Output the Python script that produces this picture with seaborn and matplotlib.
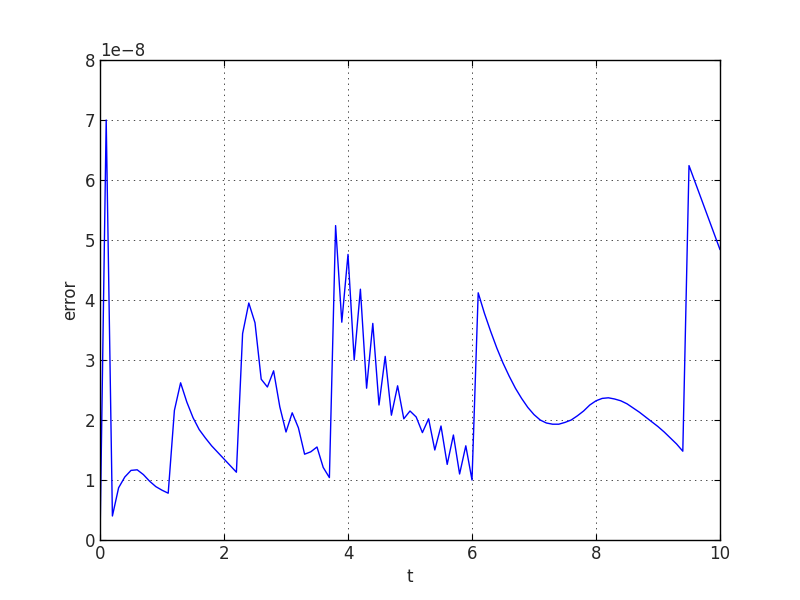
import numpy as np
import pandas as pd
import seaborn as sns
import matplotlib.pyplot as plt

# time samples (step 0.1) and error values, in units of 1e-8
t = [round(0.1 * i, 1) for i in range(101)]
err_e8 = [
    0.00, 7.00, 0.40, 0.87, 1.05, 1.16, 1.17, 1.09, 0.98, 0.89,   # 0.0 - 0.9
    0.83, 0.78, 2.16, 2.62, 2.30, 2.04, 1.84, 1.70, 1.57, 1.46,   # 1.0 - 1.9
    1.35, 1.24, 1.13, 3.44, 3.95, 3.62, 2.68, 2.55, 2.82, 2.22,   # 2.0 - 2.9
    1.80, 2.12, 1.87, 1.43, 1.47, 1.55, 1.21, 1.04, 5.24, 3.63,   # 3.0 - 3.9
    4.76, 3.00, 4.18, 2.53, 3.61, 2.25, 3.06, 2.08, 2.57, 2.02,   # 4.0 - 4.9
    2.15, 2.05, 1.79, 2.02, 1.50, 1.90, 1.26, 1.75, 1.10, 1.57,   # 5.0 - 5.9
    1.00, 4.12, 3.78, 3.48, 3.20, 2.95, 2.73, 2.53, 2.36, 2.21,   # 6.0 - 6.9
    2.09, 2.00, 1.95, 1.93, 1.93, 1.96, 2.00, 2.07, 2.15, 2.25,   # 7.0 - 7.9
    2.32, 2.36, 2.37, 2.35, 2.32, 2.27, 2.20, 2.13, 2.05, 1.97,   # 8.0 - 8.9
    1.89, 1.80, 1.70, 1.60, 1.48, 6.24, 5.96, 5.68, 5.40, 5.12,   # 9.0 - 9.9
    4.84,                                                         # 10.0
]

df = pd.DataFrame({"t": t, "error": np.array(err_e8) * 1e-8})

sns.set_style("white")
plt.rcParams['font.family'] = ['DejaVu Sans']

fig, ax = plt.subplots(figsize=(8, 6), dpi=100)
fig.subplots_adjust(left=0.125, right=0.9, bottom=0.1, top=0.9)

sns.lineplot(data=df, x="t", y="error", color="blue", linewidth=1, ax=ax)

ax.set_xlim(0, 10)
ax.set_ylim(0, 8e-8)
ax.set_xticks(np.arange(0, 11, 2))
ax.set_yticks(np.arange(0, 9, 1) * 1e-8)
ax.ticklabel_format(axis="y", style="sci", scilimits=(0, 0))
ax.yaxis.get_offset_text().set_fontsize(12)

ax.set_xlabel("t", fontsize=12)
ax.set_ylabel("error", fontsize=12)
ax.tick_params(direction="in", length=4, top=True, right=True, labelsize=12,
               bottom=True, left=True, color="black")
# old-style sparse dotted grid
ax.grid(True, linestyle=(0, (2, 6)), color="black", linewidth=0.5)

for s in ax.spines.values():
    s.set_color("black")
    s.set_linewidth(1)

fig.savefig("out.png", dpi=100, facecolor="white")
